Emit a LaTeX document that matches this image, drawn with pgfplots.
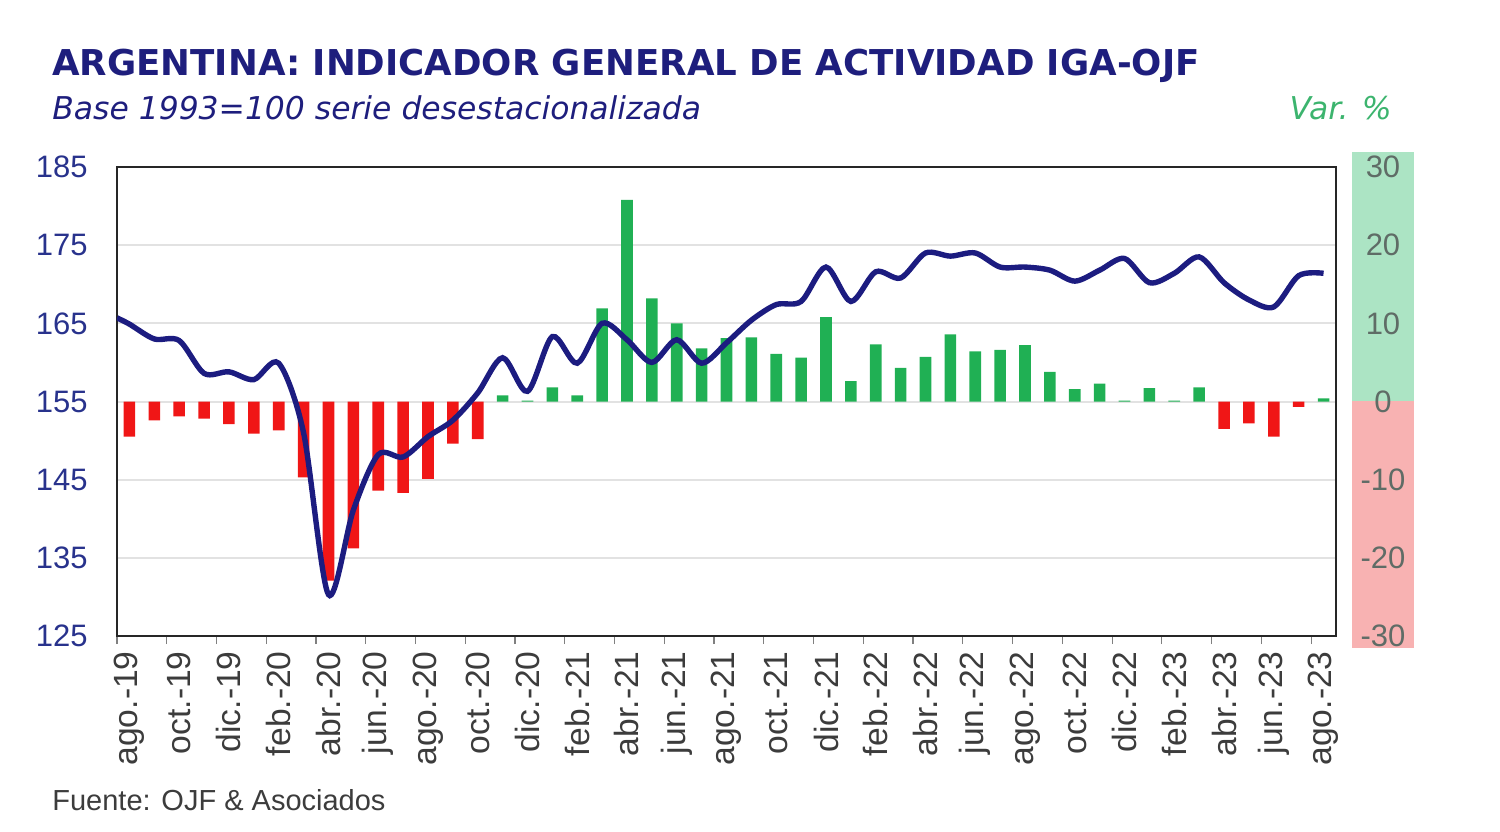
\documentclass[border=0pt]{standalone}
\usepackage{fontspec}
\setmainfont{Liberation Sans}
\newfontfamily\dejavu{DejaVu Sans}
\usepackage{pgfplots}
\pgfplotsset{compat=1.18}
\definecolor{navy}{RGB}{28,28,128}
\definecolor{titlenavy}{RGB}{30,30,125}
\definecolor{ltick}{RGB}{40,50,140}
\definecolor{rtick}{RGB}{95,108,102}
\definecolor{barred}{RGB}{240,22,22}
\definecolor{bargreen}{RGB}{32,176,84}
\definecolor{boxgreen}{RGB}{172,228,196}
\definecolor{boxpink}{RGB}{248,178,178}
\definecolor{gridgray}{RGB}{226,226,226}
\definecolor{vargreen}{RGB}{60,180,110}
\definecolor{labgray}{RGB}{60,60,60}
\begin{document}
\begin{tikzpicture}
\useasboundingbox (-58.5pt,-97.5pt) rectangle (691.5pt,318pt);
\fill[boxgreen] (617.5pt,117.5pt) rectangle (648.5pt,242pt);
\fill[boxpink] (617.5pt,-6pt) rectangle (648.5pt,117.5pt);
\begin{axis}[
 scale only axis, width=609.5pt, height=234.5pt,
 xmin=-0.5, xmax=48.5, ymin=-30, ymax=30,
 axis line style={draw=black!85, line width=1pt},
 ytick={-30,-20,-10,0,10,20,30},
 yticklabels={-30,-20,-10,0,10,20,30},
 yticklabel pos=right,
 yticklabel style={anchor=center, xshift=23.5pt, text=rtick, font=\fontsize{15.5}{18}\selectfont},
 ymajorgrids, grid style={gridgray, line width=1pt},
 xtick={0,2,...,48},
 xticklabels={ago.-19,oct.-19,dic.-19,feb.-20,abr.-20,jun.-20,ago.-20,oct.-20,dic.-20,feb.-21,abr.-21,jun.-21,ago.-21,oct.-21,dic.-21,feb.-22,abr.-22,jun.-22,ago.-22,oct.-22,dic.-22,feb.-23,abr.-23,jun.-23,ago.-23},
 xticklabel style={yshift=-7.5pt, anchor=east, inner sep=0pt, rotate=90, text=labgray, font=\fontsize{16.8}{19}\selectfont},
 xtick pos=bottom,
 minor xtick={-0.5,1.5,...,47.5},
 major tick length=0pt, minor tick length=4pt, tick align=outside,
 minor tick style={gray, line width=0.6pt},
]
\addplot[ybar, bar width=5.8pt, bar shift=0pt, fill=barred, draw=none] coordinates {
(0,-4.5) (1,-2.4) (2,-1.9) (3,-2.2) (4,-2.9) (5,-4.1) (6,-3.7) (7,-9.7) (8,-22.9) (9,-18.8)
(10,-11.4) (11,-11.7) (12,-9.9) (13,-5.4) (14,-4.8)
(44,-3.5) (45,-2.8) (46,-4.5) (47,-0.7)};
\addplot[ybar, bar width=5.8pt, bar shift=0pt, fill=bargreen, draw=none] coordinates {
(15,0.8) (16,0.1) (17,1.8) (18,0.8) (19,11.9) (20,25.8) (21,13.2) (22,10.0) (23,6.8) (24,8.1)
(25,8.2) (26,6.1) (27,5.6) (28,10.8) (29,2.6) (30,7.3) (31,4.3) (32,5.7) (33,8.6) (34,6.4)
(35,6.6) (36,7.2) (37,3.8) (38,1.6) (39,2.3) (40,0.1) (41,1.7) (42,0.1) (43,1.8) (48,0.4)};
\end{axis}
\begin{axis}[
 scale only axis, width=609.5pt, height=234.5pt,
 xmin=-0.5, xmax=48.5, ymin=125, ymax=185,
 hide x axis, axis y line*=left, axis line style={draw=none},
 ytick={125,135,145,155,165,175,185},
 yticklabels={125,135,145,155,165,175,185},
 yticklabel style={anchor=east, inner sep=0pt, xshift=-14.5pt, text=ltick, font=\fontsize{15.5}{18}\selectfont},
 major tick length=0pt,
]
\addplot[navy, line width=2.7pt, smooth] coordinates {
(-0.5,165.7) (0,164.9) (1,163.0) (2,162.8) (3,158.6) (4,158.8) (5,157.8) (6,159.9) (7,151.0) (8,130.3)
(9,141.1) (10,148.2) (11,147.9) (12,150.5) (13,152.6) (14,156.1) (15,160.6) (16,156.3) (17,163.3) (18,159.9)
(19,165.0) (20,162.9) (21,160.0) (22,162.9) (23,159.9) (24,162.5) (25,165.4) (26,167.4) (27,167.8) (28,172.2)
(29,167.8) (30,171.6) (31,170.8) (32,174.0) (33,173.6) (34,174.0) (35,172.2) (36,172.2) (37,171.8) (38,170.4)
(39,171.8) (40,173.3) (41,170.2) (42,171.4) (43,173.5) (44,170.2) (45,168.0) (46,167.1) (47,171.1) (48,171.4)};
\end{axis}
\node[anchor=base west, inner sep=0pt, text=titlenavy, font=\dejavu\bfseries\fontsize{17.8}{21}\selectfont] at (-32.5pt,280pt) {ARGENTINA: INDICADOR GENERAL DE ACTIVIDAD IGA-OJF};
\node[anchor=base west, inner sep=0pt, text=titlenavy, font=\dejavu\itshape\fontsize{15.7}{19}\selectfont] at (-32.5pt,258pt) {Base 1993=100 serie desestacionalizada};
\node[anchor=base east, inner sep=0pt, text=vargreen, font=\dejavu\itshape\fontsize{15.7}{19}\selectfont] at (637.5pt,258pt) {Var. \%};
\node[anchor=base west, inner sep=0pt, text=labgray, font=\fontsize{14.5}{17}\selectfont] at (-32.5pt,-87pt) {Fuente: OJF \& Asociados};
\end{tikzpicture}
\end{document}
